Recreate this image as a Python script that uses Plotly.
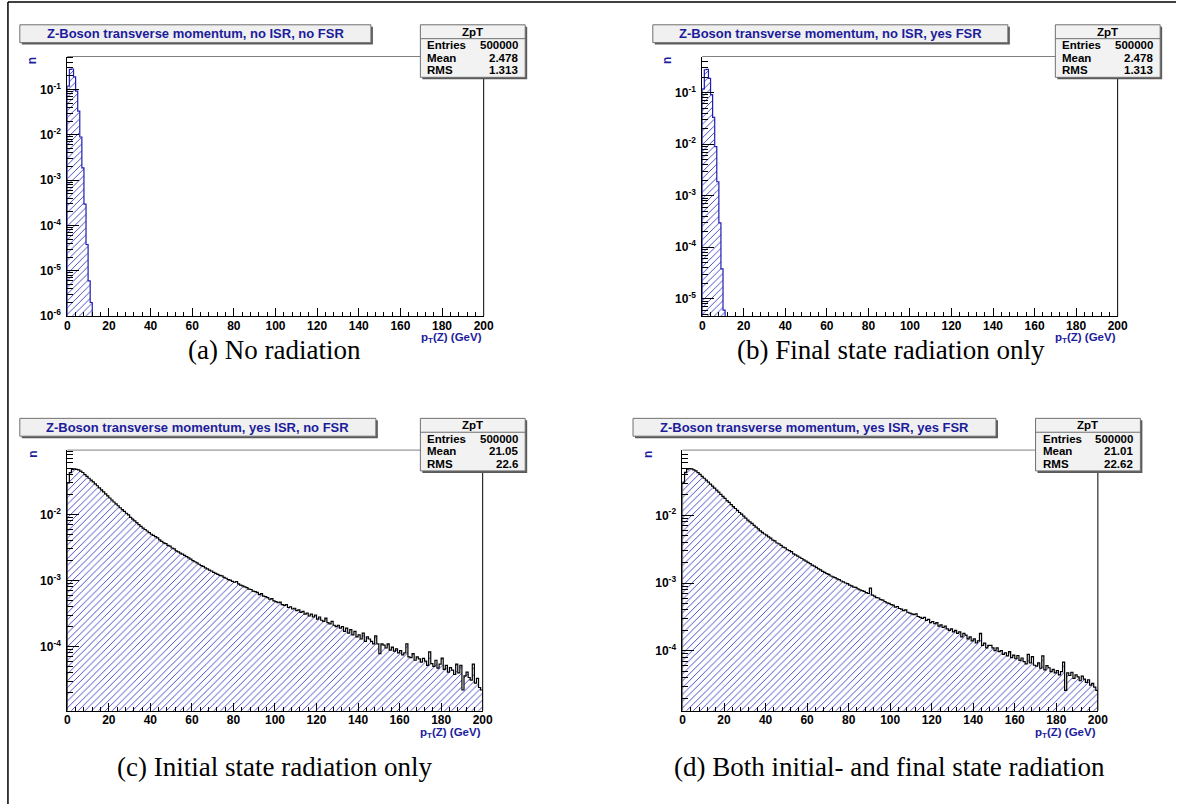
import math
import plotly.graph_objects as go

W, H = 1186, 811

# ---------------- data (normalised bin contents, 1 GeV bins, 0-200 GeV) ----------------
norad_bins = list(range(0, 12))
norad_n = [0.118, 0.277, 0.281, 0.189, 0.091, 0.033, 0.0089, 0.00186,
           0.000296, 0.000038, 0.000006, 0.000002]

full_bins = list(range(0, 200))
isr_n = [
    0.030, 0.043, 0.048, 0.049, 0.048, 0.047, 0.045, 0.043, 0.040, 0.0375,
    0.0352, 0.0330, 0.0310, 0.0290, 0.0271, 0.0252, 0.0235, 0.0219, 0.0204, 0.0190,
    0.0177, 0.0165, 0.0154, 0.0144, 0.0135, 0.0126, 0.0118, 0.0111, 0.0104, 0.0098,
    0.0090, 0.0085, 0.0080, 0.0075, 0.0070, 0.0066, 0.0062, 0.0059, 0.0056, 0.0053,
    0.0050, 0.0048, 0.0046, 0.0044, 0.0041, 0.0039, 0.0037, 0.0036, 0.0034, 0.0033,
    0.0031, 0.0030, 0.0028, 0.0027, 0.0026, 0.0025, 0.0024, 0.0023, 0.0022, 0.0021,
    0.0020, 0.00192, 0.00185, 0.00176, 0.00168, 0.00163, 0.00155, 0.00150, 0.00143, 0.00139,
    0.00133, 0.00128, 0.00124, 0.00119, 0.00117, 0.00111, 0.00108, 0.00103, 0.00101, 0.00097,
    0.00094, 0.00096, 0.00089, 0.00085, 0.00083, 0.00080, 0.00078, 0.00074, 0.00073, 0.00069,
    0.00068, 0.00066, 0.00061, 0.00063, 0.00058, 0.00057, 0.00055, 0.00052, 0.00053, 0.00049,
    0.00048, 0.00046, 0.00047, 0.00043, 0.00042, 0.00043, 0.00039, 0.00040, 0.00037, 0.00038,
    0.00035, 0.00036, 0.00033, 0.00034, 0.00031, 0.00032, 0.00029, 0.00031, 0.00028, 0.00030,
    0.00026, 0.00028, 0.00025, 0.00024, 0.00027, 0.00023, 0.00022, 0.00024, 0.00021, 0.00020,
    0.00021, 0.00019, 0.00020, 0.00017, 0.00019, 0.00016, 0.00018, 0.00015, 0.00017, 0.00014,
    0.00015, 0.00013, 0.00016, 0.00012, 0.00014, 0.00013, 0.00012, 0.00011, 0.000145, 0.00011,
    0.000078, 0.00011, 0.000105, 0.000095, 0.00011, 0.000088, 0.000098, 0.000085, 0.000092, 0.00008,
    0.000087, 0.000075, 0.00008, 0.00011, 0.00007, 0.000068, 0.000078, 0.000062, 0.00007, 0.000065,
    0.000058, 0.000066, 0.00006, 0.000052, 0.000083, 0.000055, 0.00005, 0.000062, 0.000047, 0.000054,
    0.000067, 0.000045, 0.000052, 0.000041, 0.000048, 0.000044, 0.000038, 0.000054, 0.00004, 0.000052,
    0.000022, 0.000036, 0.000041, 0.000034, 0.000031, 0.000054, 0.000028, 0.000033, 0.000024, 0.000022,
]
isrfsr_n = [
    0.031, 0.043, 0.048, 0.0492, 0.0485, 0.0468, 0.0452, 0.0428, 0.0402, 0.0377,
    0.0353, 0.0331, 0.0309, 0.0289, 0.0270, 0.0253, 0.0236, 0.0220, 0.0204, 0.0191,
    0.0178, 0.0165, 0.0155, 0.0144, 0.0134, 0.0126, 0.0118, 0.0110, 0.0104, 0.0097,
    0.0091, 0.0085, 0.0080, 0.0076, 0.0071, 0.0067, 0.0063, 0.0059, 0.0056, 0.0053,
    0.0051, 0.0048, 0.0046, 0.0043, 0.0042, 0.0039, 0.0038, 0.0036, 0.0034, 0.0033,
    0.0031, 0.0030, 0.0029, 0.0027, 0.0026, 0.0025, 0.0024, 0.0023, 0.0022, 0.0021,
    0.00202, 0.00194, 0.00184, 0.00178, 0.00170, 0.00162, 0.00156, 0.00149, 0.00144, 0.00138,
    0.00134, 0.00127, 0.00123, 0.00120, 0.00115, 0.00112, 0.00107, 0.00104, 0.00100, 0.00098,
    0.00093, 0.00091, 0.00087, 0.00086, 0.00082, 0.00079, 0.00077, 0.00075, 0.00072, 0.00070,
    0.00084, 0.00066, 0.00064, 0.00061, 0.00060, 0.00057, 0.00056, 0.00053, 0.00051, 0.00050,
    0.00048, 0.00047, 0.00044, 0.00045, 0.00042, 0.00041, 0.00039, 0.00040, 0.00037, 0.00036,
    0.00035, 0.00034, 0.00035, 0.00032, 0.00031, 0.00030, 0.00031, 0.00028, 0.00029, 0.00026,
    0.00027, 0.00025, 0.00026, 0.00023, 0.00024, 0.00022, 0.00023, 0.00021, 0.00020, 0.00021,
    0.00019, 0.00020, 0.00018, 0.00019, 0.00016, 0.00018, 0.00017, 0.00015, 0.00016, 0.00014,
    0.00015, 0.00013, 0.00014, 0.00018, 0.00012, 0.00013, 0.00011, 0.00012, 0.00012, 0.00011,
    0.00010, 0.00011, 0.000097, 0.00010, 0.000088, 0.000093, 0.000084, 0.000097, 0.000079, 0.000086,
    0.000076, 0.000085, 0.000072, 0.000078, 0.000069, 0.000064, 0.000088, 0.000066, 0.000082, 0.000061,
    0.000059, 0.000066, 0.000055, 0.000084, 0.000052, 0.000060, 0.000056, 0.000049, 0.000053, 0.000047,
    0.000051, 0.000044, 0.000049, 0.000068, 0.000026, 0.000047, 0.000043, 0.000048, 0.000039, 0.000044,
    0.000041, 0.000036, 0.000042, 0.000038, 0.000034, 0.000037, 0.000031, 0.000033, 0.000029, 0.000026,
]

titles = ["Z-Boson transverse momentum, no ISR, no FSR",
          "Z-Boson transverse momentum, no ISR, yes FSR",
          "Z-Boson transverse momentum, yes ISR, no FSR",
          "Z-Boson transverse momentum, yes ISR, yes FSR"]
captions = ["(a) No radiation", "(b) Final state radiation only",
            "(c) Initial state radiation only", "(d) Both initial- and final state radiation"]
stat_name = "ZpT"
stat_entries = ["500000", "500000", "500000", "500000"]
stat_mean = ["2.478", "2.478", "21.05", "21.01"]
stat_rms = ["1.313", "1.313", "22.6", "22.62"]
x_ticks = [0, 20, 40, 60, 80, 100, 120, 140, 160, 180, 200]
y_title = "n"
x_title = "p<sub>T</sub>(Z) (GeV)"

series = [(norad_bins, norad_n), (norad_bins, norad_n), (full_bins, isr_n), (full_bins, isrfsr_n)]

# ---------------- layout (pixel geometry) ----------------
panels = [
    dict(left=65, right=486, top=57, bottom=319, tl=17, tr=372, ylo=1.0e-6, yhi=0.53,
         outline="#1e1eb4", cap=(275, 353)),
    dict(left=707, right=1127, top=57, bottom=319, tl=657, tr=1016, ylo=4.6e-6, yhi=0.50,
         outline="#1e1eb4", cap=(898, 353)),
    dict(left=65, right=485, top=454, bottom=717, tl=17, tr=377, ylo=1.07e-5, yhi=0.094,
         outline="#000000", cap=(275, 774)),
    dict(left=687, right=1107, top=454, bottom=717, tl=637, tr=1004, ylo=1.3e-5, yhi=0.092,
         outline="#000000", cap=(896, 774)),
]

HATCH = "#3232c0"
TXT_BLUE = "#1c1c9c"
FLOOR = 1e-12


def fx(p):
    return p / W


def fy(p):
    return 1 - p / H


fig = go.Figure()
shapes = []
annotations = []
axis_font = dict(family="Liberation Sans, Arial, sans-serif", size=12, color="black", weight="bold")

for i, (pn, (bins, vals)) in enumerate(zip(panels, series)):
    n = "" if i == 0 else str(i + 1)
    xa, ya = "x" + n, "y" + n
    centers = [b + 0.5 for b in bins]
    fig.add_trace(go.Bar(
        x=centers, y=vals, width=1, xaxis=xa, yaxis=ya, showlegend=False, hoverinfo="skip",
        marker=dict(color="rgba(0,0,0,0)", line=dict(width=0),
                    pattern=dict(shape="/", size=4.8, solidity=0.18, fgcolor=HATCH,
                                 bgcolor="rgba(0,0,0,0)", fillmode="replace")),
    ))
    ox = [bins[0]] + list(bins) + [bins[-1] + 1, bins[-1] + 1]
    oy = [FLOOR] + list(vals) + [vals[-1], FLOOR]
    fig.add_trace(go.Scatter(x=ox, y=oy, mode="lines", line=dict(color=pn["outline"], width=1.2, shape="hv"),
                             xaxis=xa, yaxis=ya, showlegend=False, hoverinfo="skip"))

    lo, hi = math.log10(pn["ylo"]), math.log10(pn["yhi"])
    decades = [k for k in range(math.floor(lo) - 1, math.ceil(hi) + 1) if lo - 0.002 <= k <= hi]
    minors = [m * 10 ** k for k in range(math.floor(lo) - 1, math.ceil(hi) + 1) for m in range(2, 10)
              if lo < math.log10(m * 10 ** k) < hi]
    fig.layout["xaxis" + n] = dict(
        domain=[fx(pn["left"]), fx(pn["right"])], anchor=ya, range=[0, 200],
        tickmode="array", tickvals=x_ticks, ticktext=[str(t) for t in x_ticks],
        ticks="inside", ticklen=8, tickwidth=1, tickcolor="black",
        minor=dict(ticks="inside", ticklen=4, tickwidth=1, tickcolor="black", dtick=4, tick0=0, showgrid=False),
        showline=True, linecolor="black", linewidth=1, showgrid=False, zeroline=False,
        tickfont=axis_font, fixedrange=True, ticklabelstandoff=-2,
    )
    fig.layout["yaxis" + n] = dict(
        domain=[fy(pn["bottom"]), fy(pn["top"])], anchor=xa, type="log", range=[lo - 0.002, hi],
        tickmode="array", tickvals=[10 ** k for k in decades],
        ticktext=["10<sup>%d</sup>" % k for k in decades],
        ticks="inside", ticklen=12, tickwidth=1, tickcolor="black",
        minor=dict(ticks="inside", ticklen=6, tickwidth=1, tickcolor="black", tickvals=minors, showgrid=False),
        showline=True, linecolor="black", linewidth=1, showgrid=False, zeroline=False,
        tickfont=axis_font, fixedrange=True, ticklabelstandoff=3,
    )

    # frame top (grey) and right (black)
    shapes.append(dict(type="line", xref="paper", yref="paper", x0=fx(pn["left"]), x1=fx(pn["right"]),
                       y0=fy(pn["top"]), y1=fy(pn["top"]), line=dict(color="#808080", width=1)))
    shapes.append(dict(type="line", xref="paper", yref="paper", x0=fx(pn["right"]), x1=fx(pn["right"]),
                       y0=fy(pn["top"]), y1=fy(pn["bottom"]), line=dict(color="black", width=1)))

    # title box
    ttop, tbot = pn["top"] - 32, pn["top"] - 14
    shapes.append(dict(type="rect", xref="paper", yref="paper", x0=fx(pn["tl"] + 2), x1=fx(pn["tr"] + 2),
                       y0=fy(tbot + 2), y1=fy(ttop + 2), fillcolor="#5a5a5a", line=dict(width=0)))
    shapes.append(dict(type="rect", xref="paper", yref="paper", x0=fx(pn["tl"]), x1=fx(pn["tr"]),
                       y0=fy(tbot), y1=fy(ttop), fillcolor="#f0f0f0", line=dict(color="#707070", width=1)))
    annotations.append(dict(text="<b>%s</b>" % titles[i], xref="paper", yref="paper",
                            x=fx((pn["tl"] + pn["tr"]) / 2), y=fy((ttop + tbot) / 2),
                            xanchor="center", yanchor="middle", showarrow=False,
                            font=dict(family="Liberation Sans, Arial", size=13, color=TXT_BLUE)))

    # stats box
    sl, sr = pn["left"] + 357, pn["left"] + 463
    st, sb = pn["top"] - 32, pn["top"] + 21
    shapes.append(dict(type="rect", xref="paper", yref="paper", x0=fx(sl + 2), x1=fx(sr + 2),
                       y0=fy(sb + 2), y1=fy(st + 2), fillcolor="#5a5a5a", line=dict(width=0)))
    shapes.append(dict(type="rect", xref="paper", yref="paper", x0=fx(sl), x1=fx(sr),
                       y0=fy(sb), y1=fy(st), fillcolor="#f2f2f2", line=dict(color="#707070", width=1)))
    shapes.append(dict(type="line", xref="paper", yref="paper", x0=fx(sl), x1=fx(sr),
                       y0=fy(st + 14), y1=fy(st + 14), line=dict(color="#707070", width=1)))
    sfont = dict(family="Liberation Sans, Arial", size=11.5, color="black")
    annotations.append(dict(text="<b>%s</b>" % stat_name, xref="paper", yref="paper",
                            x=fx((sl + sr) / 2), y=fy(st + 7), xanchor="center", yanchor="middle",
                            showarrow=False, font=sfont))
    rows = [("Entries", stat_entries[i]), ("Mean", stat_mean[i]), ("RMS", stat_rms[i])]
    for r, (lab, val) in enumerate(rows):
        yy = st + 20.5 + 12.7 * r
        annotations.append(dict(text="<b>%s</b>" % lab, xref="paper", yref="paper", x=fx(sl + 5), y=fy(yy),
                                xanchor="left", yanchor="middle", showarrow=False, font=sfont))
        annotations.append(dict(text="<b>%s</b>" % val, xref="paper", yref="paper", x=fx(sr - 5), y=fy(yy),
                                xanchor="right", yanchor="middle", showarrow=False, font=sfont))

    # axis titles
    annotations.append(dict(text="<b>%s</b>" % y_title, xref="paper", yref="paper",
                            x=fx(pn["left"] - 35), y=fy(pn["top"] + 4), xanchor="center", yanchor="middle",
                            textangle=-90, showarrow=False,
                            font=dict(family="Liberation Sans, Arial", size=12, color=TXT_BLUE)))
    annotations.append(dict(text="<b>%s</b>" % x_title, xref="paper", yref="paper",
                            x=fx(pn["right"]), y=fy(pn["bottom"] + 22), xanchor="right", yanchor="middle",
                            showarrow=False,
                            font=dict(family="Liberation Sans, Arial", size=11.5, color=TXT_BLUE)))
    # caption
    annotations.append(dict(text=captions[i], xref="paper", yref="paper",
                            x=fx(pn["cap"][0]), y=fy(pn["cap"][1]), xanchor="center", yanchor="middle",
                            showarrow=False,
                            font=dict(family="Liberation Serif, Times New Roman, serif", size=27, color="black")))

# outer page frame (top and left)
shapes.append(dict(type="line", xref="paper", yref="paper", x0=fx(5), x1=1, y0=fy(2), y1=fy(2),
                   line=dict(color="black", width=1.5)))
shapes.append(dict(type="line", xref="paper", yref="paper", x0=fx(5), x1=fx(5), y0=fy(2), y1=0,
                   line=dict(color="black", width=1.5)))

fig.update_layout(width=W, height=H, margin=dict(l=0, r=0, t=0, b=0, pad=0),
                  paper_bgcolor="white", plot_bgcolor="white", bargap=0, showlegend=False,
                  shapes=shapes, annotations=annotations)

fig.write_html("out.html", config={"displayModeBar": False},
               post_script="document.body.style.margin='0px';document.body.style.overflow='hidden';")
